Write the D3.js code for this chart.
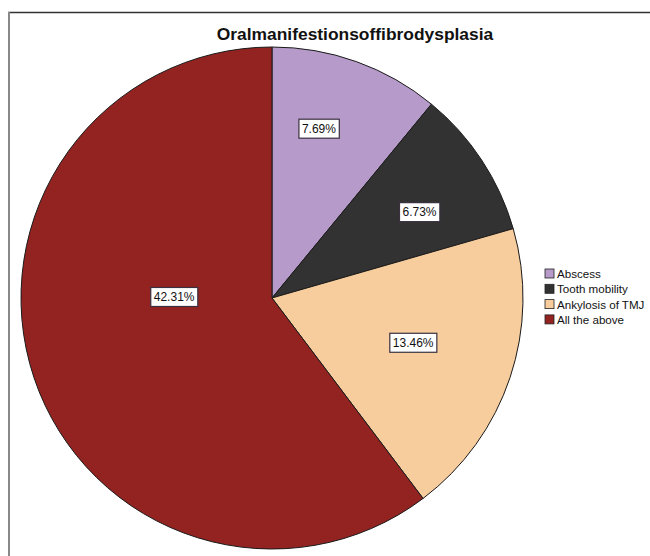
<!DOCTYPE html>
<html>
<head>
<meta charset="utf-8">
<script src="https://cdn.jsdelivr.net/npm/d3@7"></script>
<style>
  html, body { margin: 0; padding: 0; background: #fff; }
  svg { display: block; }
</style>
</head>
<body>
<svg id="chart" width="650" height="556"></svg>
<script>
// Oral manifestations of fibrous dysplasia — share of cases per finding
const categories = ["Abscess", "Tooth mobility", "Ankylosis of TMJ", "All the above"];
const percents = [7.69, 6.73, 13.46, 42.31];
const colors = ["#b69bca", "#323232", "#f7cd9d", "#922321"];
const title = "Oralmanifestionsoffibrodysplasia";

// label placement inside each slice: [angle in degrees from 12 o'clock, fraction of radius]
const labelPlacement = [[15.5, 0.70], [59.8, 0.68], [107.6, 0.59], [270.6, 0.39]];

const svg = d3.select("#chart");
const W = 650, H = 556;

// frame lines
svg.append("line").attr("x1", 8).attr("x2", 650).attr("y1", 12.5).attr("y2", 12.5)
  .attr("stroke", "#333").attr("stroke-width", 1.5);
svg.append("line").attr("x1", 9).attr("x2", 9).attr("y1", 12).attr("y2", H)
  .attr("stroke", "#888").attr("stroke-width", 2);

// title
svg.append("text")
  .attr("x", 355).attr("y", 40)
  .attr("text-anchor", "middle")
  .attr("font-family", "Liberation Sans, Arial, sans-serif")
  .attr("font-weight", "bold")
  .attr("font-size", 17.4)
  .attr("fill", "#111")
  .text(title);

const cx = 272, cy = 298, R = 251;
const data = categories.map((c, i) => ({ name: c, value: percents[i], color: colors[i], idx: i }));

const pie = d3.pie().sort(null).value(d => d.value);
const arc = d3.arc().innerRadius(0).outerRadius(R);
const arcs = pie(data);

const g = svg.append("g").attr("transform", `translate(${cx},${cy})`);

g.selectAll("path.slice")
  .data(arcs)
  .join("path")
  .attr("class", "slice")
  .attr("d", arc)
  .attr("fill", d => d.data.color)
  .attr("stroke", "#1a1a1a")
  .attr("stroke-width", 1)
  .attr("stroke-linejoin", "round");

// percentage labels in boxed tags
const fmt = d3.format(".2f");
const lbl = g.selectAll("g.lbl")
  .data(arcs)
  .join("g")
  .attr("class", "lbl")
  .attr("transform", d => {
    const [deg, f] = labelPlacement[d.data.idx];
    const a = deg * Math.PI / 180;
    return `translate(${Math.sin(a) * R * f},${-Math.cos(a) * R * f})`;
  });

lbl.append("text")
  .attr("text-anchor", "middle")
  .attr("dy", "0.36em")
  .attr("font-family", "Liberation Sans, Arial, sans-serif")
  .attr("font-size", 12)
  .attr("fill", "#111")
  .text(d => fmt(d.data.value) + "%");

lbl.each(function () {
  const t = d3.select(this).select("text");
  const b = t.node().getBBox();
  d3.select(this).insert("rect", "text")
    .attr("x", b.x - 3).attr("y", -9.5)
    .attr("width", b.width + 6).attr("height", 19)
    .attr("fill", "#fff")
    .attr("stroke", "#3a3040")
    .attr("stroke-width", 1.2);
});

// legend
const legend = svg.append("g").attr("transform", "translate(545,274)");
const rows = legend.selectAll("g")
  .data(data)
  .join("g")
  .attr("transform", (d, i) => `translate(0,${i * 15.3})`);

rows.append("rect")
  .attr("x", 0).attr("y", -5)
  .attr("width", 9).attr("height", 9)
  .attr("fill", d => d.color)
  .attr("stroke", "#222").attr("stroke-width", 0.8);

rows.append("text")
  .attr("x", 12).attr("y", 0)
  .attr("dy", "0.35em")
  .attr("font-family", "Liberation Sans, Arial, sans-serif")
  .attr("font-size", 11.6)
  .attr("fill", "#111")
  .text(d => d.name);
</script>
</body>
</html>
